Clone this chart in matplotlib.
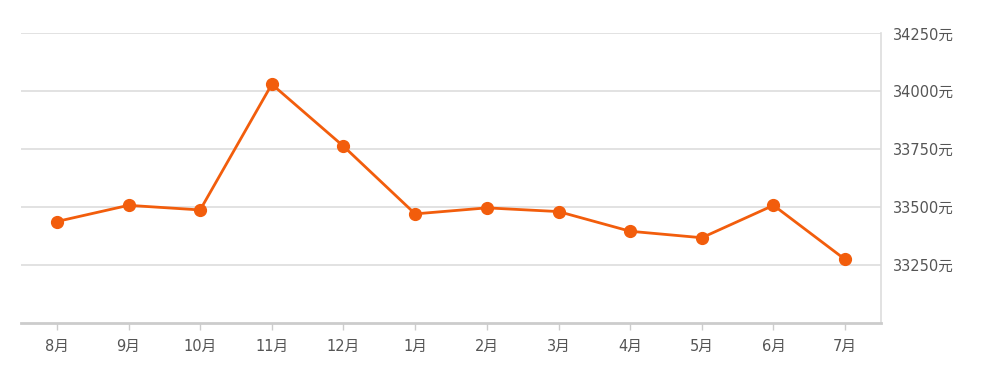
import matplotlib
matplotlib.use("Agg")
import matplotlib.pyplot as plt

plt.rcParams['font.family'] = ['DejaVu Sans', 'Noto Sans CJK SC']

months = ["8月", "9月", "10月", "11月", "12月", "1月", "2月", "3月", "4月", "5月", "6月", "7月"]
prices = [33437, 33507, 33487, 34030, 33762, 33470, 33496, 33480, 33395, 33367, 33507, 33273]
y_ticks = [33250, 33500, 33750, 34000, 34250]

fig = plt.figure(figsize=(9.81, 3.78), dpi=100)
ax = fig.add_axes([21 / 981, 1 - 322.7 / 378, 860 / 981, (322.7 - 33.3) / 378])

x = list(range(len(months)))
ax.plot(x, prices, color="#f25d0c", linewidth=2, marker="o", markersize=8.5,
        zorder=3, clip_on=False)

ax.set_xlim(-0.5, len(months) - 0.5)
ax.set_ylim(33000, 34250)

ax.set_yticks(y_ticks)
ax.set_yticklabels([f"{v}元" for v in y_ticks])
ax.yaxis.tick_right()
ax.tick_params(axis="y", length=0, pad=8.5, labelsize=10.5, labelcolor="#555555")
ax.grid(axis="y", color="#dddddd", linewidth=1.2)
ax.set_axisbelow(True)

ax.set_xticks(x)
ax.set_xticklabels(months)
ax.tick_params(axis="x", length=5, width=1, color="#cccccc", pad=7,
               labelsize=10.5, labelcolor="#555555")

for side in ["left", "top"]:
    ax.spines[side].set_visible(False)
ax.spines["right"].set_color("#dddddd")
ax.spines["right"].set_linewidth(1.2)
ax.spines["bottom"].set_color("#cccccc")
ax.spines["bottom"].set_linewidth(2)

fig.savefig("out.png", dpi=100)
